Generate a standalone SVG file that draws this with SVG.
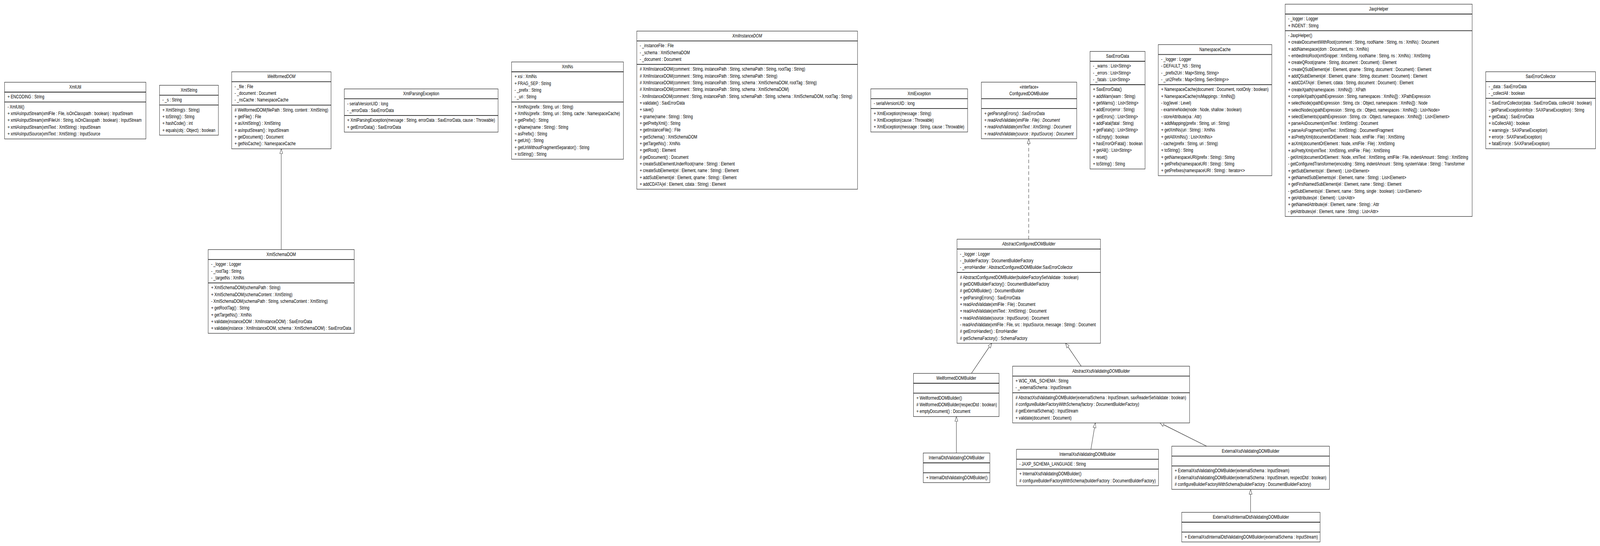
<svg xmlns="http://www.w3.org/2000/svg" width="5470" height="1399" viewBox="0 0 5470 1399" preserveAspectRatio="none">
<defs>
<style>
:root{width:100vw;height:100vh;display:block}
text{font-family:"Liberation Sans",Arial,sans-serif;font-size:13px;fill:#000}
.t{text-anchor:middle}
.ti{text-anchor:middle;font-style:italic}
.i{font-style:italic}
.box{fill:#fff;stroke:#222;stroke-width:1.2}
.sep{stroke:#222;stroke-width:1.8}
.edge{fill:none;stroke:#222;stroke-width:1.2;marker-end:url(#gen)}
.dash{stroke-dasharray:9,6}
</style>
<marker id="gen" markerWidth="14" markerHeight="12" refX="13" refY="5.5" orient="auto" markerUnits="userSpaceOnUse" viewBox="0 0 14 11">
<path d="M0.5,0.5 L13,5.5 L0.5,10.5 Z" fill="#fff" stroke="#222" stroke-width="1" stroke-dasharray="none"/>
</marker>
</defs>
<rect width="5470" height="1399" fill="#fff"/>

<g id="connectors">
<path class="edge" d="M961.5,639.5 L961.5,381.3"/>
<path class="edge dash" d="M3517,612.9 L3517,355.5"/>
<path class="edge" d="M3321,956.7 L3390.6,879.5"/>
<path class="edge" d="M3696.4,938.3 L3642.9,879.5"/>
<path class="edge" d="M3269.6,1160.7 L3269.6,1067.3"/>
<path class="edge" d="M3729.5,1151.3 L3744.6,1083.6"/>
<path class="edge" d="M4125,1143.3 L3966,1083.6"/>
<path class="edge" d="M4275.5,1312.7 L4275.5,1253.9"/>
</g>

<g id="XmlUtil">
<rect class="box" x="15.6" y="210.7" width="483.1" height="145.3"/>
<line class="sep" x1="15.6" y1="236" x2="498.7" y2="236"/>
<line class="sep" x1="15.6" y1="261.3" x2="498.7" y2="261.3"/>
<text class="t" x="257.2" y="227.2">XmlUtil</text>
<text x="25.6" y="252.5">+ ENCODING : String</text>
<text x="25.6" y="277.8">- XmlUtil()</text>
<text x="25.6" y="295.1">+ xmlAsInputStream(xmlFile : File, isOnClasspath : boolean) : InputStream</text>
<text x="25.6" y="312.5">+ xmlAsInputStream(xmlFileUri : String, isOnClasspath : boolean) : InputStream</text>
<text x="25.6" y="329.8">+ xmlAsInputStream(xmlText : XmlString) : InputStream</text>
<text x="25.6" y="347.1">+ xmlAsInputSource(xmlText : XmlString) : InputSource</text>
</g>

<g id="XmlString">
<rect class="box" x="545.3" y="218.5" width="201.3" height="127.9"/>
<line class="sep" x1="545.3" y1="243.8" x2="746.6" y2="243.8"/>
<line class="sep" x1="545.3" y1="269.1" x2="746.6" y2="269.1"/>
<text class="t" x="646" y="235">XmlString</text>
<text x="555.3" y="260.3">- _s : String</text>
<text x="555.3" y="285.6">+ XmlString(s : String)</text>
<text x="555.3" y="302.9">+ toString() : String</text>
<text x="555.3" y="320.3">+ hashCode() : int</text>
<text x="555.3" y="337.6">+ equals(obj : Object) : boolean</text>
</g>

<g id="WellformedDOM">
<rect class="box" x="792" y="184" width="339.8" height="197.3"/>
<line class="sep" x1="792" y1="209.3" x2="1131.8" y2="209.3"/>
<line class="sep" x1="792" y1="269.3" x2="1131.8" y2="269.3"/>
<text class="ti" x="961.9" y="200.5">WellformedDOM</text>
<text x="802" y="225.8">- _file : File</text>
<text x="802" y="243.1">- _document : Document</text>
<text x="802" y="260.5">- _nsCache : NamespaceCache</text>
<text x="802" y="285.8"># WellformedDOM(filePath : String, content : XmlString)</text>
<text x="802" y="303.1">+ getFile() : File</text>
<text x="802" y="320.5">+ asXmlString() : XmlString</text>
<text x="802" y="337.8">+ asInputStream() : InputStream</text>
<text x="802" y="355.1">+ getDocument() : Document</text>
<text x="802" y="372.5">+ getNsCache() : NamespaceCache</text>
</g>

<g id="XmlSchemaDOM">
<rect class="box" x="711.7" y="639.5" width="499.3" height="214.6"/>
<line class="sep" x1="711.7" y1="664.8" x2="1211" y2="664.8"/>
<line class="sep" x1="711.7" y1="724.8" x2="1211" y2="724.8"/>
<text class="t" x="961.4" y="656">XmlSchemaDOM</text>
<text x="721.7" y="681.3">- _logger : Logger</text>
<text x="721.7" y="698.6">- _rootTag : String</text>
<text x="721.7" y="716">- _targetNs : XmlNs</text>
<text x="721.7" y="741.3">+ XmlSchemaDOM(schemaPath : String)</text>
<text x="721.7" y="758.6">+ XmlSchemaDOM(schemaContent : XmlString)</text>
<text x="721.7" y="776">- XmlSchemaDOM(schemaPath : String, schemaContent : XmlString)</text>
<text x="721.7" y="793.3">+ getRootTag() : String</text>
<text x="721.7" y="810.6">+ getTargetNs() : XmlNs</text>
<text x="721.7" y="828">+ validate(instanceDOM : XmlInstanceDOM) : SaxErrorData</text>
<text x="721.7" y="845.3">+ validate(instance : XmlInstanceDOM, schema : XmlSchemaDOM) : SaxErrorData</text>
</g>

<g id="XmlParsingException">
<rect class="box" x="1177" y="227.8" width="525.8" height="110.7"/>
<line class="sep" x1="1177" y1="253.1" x2="1702.8" y2="253.1"/>
<line class="sep" x1="1177" y1="295.8" x2="1702.8" y2="295.8"/>
<text class="t" x="1439.9" y="244.3">XmlParsingException</text>
<text x="1187" y="269.6">- serialVersionUID : long</text>
<text x="1187" y="286.9">- _errorData : SaxErrorData</text>
<text x="1187" y="312.3">+ XmlParsingException(message : String, errorData : SaxErrorData, cause : Throwable)</text>
<text x="1187" y="329.6">+ getErrorData() : SaxErrorData</text>
</g>

<g id="XmlNs">
<rect class="box" x="1749" y="158.7" width="382.4" height="249.3"/>
<line class="sep" x1="1749" y1="184" x2="2131.4" y2="184"/>
<line class="sep" x1="1749" y1="261.3" x2="2131.4" y2="261.3"/>
<text class="t" x="1940.2" y="175.2">XmlNs</text>
<text x="1759" y="200.5">+ xsi : XmlNs</text>
<text x="1759" y="217.8">+ FRAG_SEP : String</text>
<text x="1759" y="235.2">- _prefix : String</text>
<text x="1759" y="252.5">- _uri : String</text>
<text x="1759" y="277.8">+ XmlNs(prefix : String, uri : String)</text>
<text x="1759" y="295.1">+ XmlNs(prefix : String, uri : String, cache : NamespaceCache)</text>
<text x="1759" y="312.5">+ getPrefix() : String</text>
<text x="1759" y="329.8">+ qName(name : String) : String</text>
<text x="1759" y="347.1">~ asPrefix() : String</text>
<text x="1759" y="364.5">+ getUri() : String</text>
<text x="1759" y="381.8">+ getUriWithoutFragmentSeparator() : String</text>
<text x="1759" y="399.1">+ toString() : String</text>
</g>

<g id="XmlInstanceDOM">
<rect class="box" x="2177" y="79.6" width="754.6" height="405.2"/>
<line class="sep" x1="2177" y1="104.9" x2="2931.6" y2="104.9"/>
<line class="sep" x1="2177" y1="164.9" x2="2931.6" y2="164.9"/>
<text class="ti" x="2554.3" y="96.1">XmlInstanceDOM</text>
<text x="2187" y="121.4">- _instanceFile : File</text>
<text x="2187" y="138.7">- _schema : XmlSchemaDOM</text>
<text x="2187" y="156.1">- _document : Document</text>
<text x="2187" y="181.4"># XmlInstanceDOM(comment : String, instancePath : String, schemaPath : String, rootTag : String)</text>
<text x="2187" y="198.7"># XmlInstanceDOM(comment : String, instancePath : String, schemaPath : String)</text>
<text x="2187" y="216.1"># XmlInstanceDOM(comment : String, instancePath : String, schema : XmlSchemaDOM, rootTag : String)</text>
<text x="2187" y="233.4"># XmlInstanceDOM(comment : String, instancePath : String, schema : XmlSchemaDOM)</text>
<text x="2187" y="250.7">- XmlInstanceDOM(comment : String, instancePath : String, schemaPath : String, schema : XmlSchemaDOM, rootTag : String)</text>
<text x="2187" y="268.1">+ validate() : SaxErrorData</text>
<text x="2187" y="285.4">+ save()</text>
<text x="2187" y="302.7">+ qname(name : String) : String</text>
<text x="2187" y="320">+ getPrettyXml() : String</text>
<text x="2187" y="337.4">+ getInstanceFile() : File</text>
<text x="2187" y="354.7">+ getSchema() : XmlSchemaDOM</text>
<text x="2187" y="372">+ getTargetNs() : XmlNs</text>
<text x="2187" y="389.4">+ getRoot() : Element</text>
<text x="2187" y="406.7"># getDocument() : Document</text>
<text x="2187" y="424">+ createSubElementUnderRoot(name : String) : Element</text>
<text x="2187" y="441.4">+ createSubElement(el : Element, name : String) : Element</text>
<text x="2187" y="458.7">+ addSubElement(el : Element, qname : String) : Element</text>
<text x="2187" y="476">+ addCDATA(el : Element, cdata : String) : Element</text>
</g>

<g id="XmlException">
<rect class="box" x="2977" y="227.6" width="331" height="110.6"/>
<line class="sep" x1="2977" y1="252.9" x2="3308" y2="252.9"/>
<line class="sep" x1="2977" y1="278.2" x2="3308" y2="278.2"/>
<text class="t" x="3142.5" y="244.1">XmlException</text>
<text x="2987" y="269.4">- serialVersionUID : long</text>
<text x="2987" y="294.7">+ XmlException(message : String)</text>
<text x="2987" y="312">+ XmlException(cause : Throwable)</text>
<text x="2987" y="329.4">+ XmlException(message : String, cause : Throwable)</text>
</g>

<g id="ConfiguredDOMBuilder">
<rect class="box" x="3355" y="210.5" width="326" height="145"/>
<line class="sep" x1="3355" y1="252.9" x2="3681" y2="252.9"/>
<line class="sep" x1="3355" y1="278.2" x2="3681" y2="278.2"/>
<text class="t" x="3518" y="227.5">«interface»</text>
<text class="t" x="3518" y="244.5">ConfiguredDOMBuilder</text>
<text class="i" x="3365" y="294.7">+ getParsingErrors() : SaxErrorData</text>
<text class="i" x="3365" y="312">+ readAndValidate(xmlFile : File) : Document</text>
<text class="i" x="3365" y="329.4">+ readAndValidate(xmlText : XmlString) : Document</text>
<text class="i" x="3365" y="346.7">+ readAndValidate(source : InputSource) : Document</text>
</g>

<g id="SaxErrorData">
<rect class="box" x="3726.6" y="131.7" width="188" height="301.3"/>
<line class="sep" x1="3726.6" y1="157" x2="3914.6" y2="157"/>
<line class="sep" x1="3726.6" y1="217" x2="3914.6" y2="217"/>
<text class="t" x="3820.6" y="148.2">SaxErrorData</text>
<text x="3736.6" y="173.5">- _warns : List&lt;String&gt;</text>
<text x="3736.6" y="190.8">- _errors : List&lt;String&gt;</text>
<text x="3736.6" y="208.2">- _fatals : List&lt;String&gt;</text>
<text x="3736.6" y="233.5">+ SaxErrorData()</text>
<text x="3736.6" y="250.8">+ addWarn(warn : String)</text>
<text x="3736.6" y="268.2">+ getWarns() : List&lt;String&gt;</text>
<text x="3736.6" y="285.5">+ addError(error : String)</text>
<text x="3736.6" y="302.8">+ getErrors() : List&lt;String&gt;</text>
<text x="3736.6" y="320.2">+ addFatal(fatal : String)</text>
<text x="3736.6" y="337.5">+ getFatals() : List&lt;String&gt;</text>
<text x="3736.6" y="354.8">+ isEmpty() : boolean</text>
<text x="3736.6" y="372.1">+ hasErrorOrFatal() : boolean</text>
<text x="3736.6" y="389.5">+ getAll() : List&lt;String&gt;</text>
<text x="3736.6" y="406.8">+ reset()</text>
<text x="3736.6" y="424.1">+ toString() : String</text>
</g>

<g id="NamespaceCache">
<rect class="box" x="3959.8" y="114.3" width="388.2" height="335.9"/>
<line class="sep" x1="3959.8" y1="139.6" x2="4348" y2="139.6"/>
<line class="sep" x1="3959.8" y1="216.9" x2="4348" y2="216.9"/>
<text class="t" x="4153.9" y="130.8">NamespaceCache</text>
<text x="3969.8" y="156.1">- _logger : Logger</text>
<text x="3969.8" y="173.4">- DEFAULT_NS : String</text>
<text x="3969.8" y="190.8">- _prefix2Uri : Map&lt;String, String&gt;</text>
<text x="3969.8" y="208.1">- _uri2Prefix : Map&lt;String, Set&lt;String&gt;&gt;</text>
<text x="3969.8" y="233.4">+ NamespaceCache(document : Document, rootOnly : boolean)</text>
<text x="3969.8" y="250.7">+ NamespaceCache(nsMappings : XmlNs[])</text>
<text x="3969.8" y="268.1">- log(level : Level)</text>
<text x="3969.8" y="285.4">- examineNode(node : Node, shallow : boolean)</text>
<text x="3969.8" y="302.7">- storeAttribute(xa : Attr)</text>
<text x="3969.8" y="320.1">+ addMapping(prefix : String, uri : String)</text>
<text x="3969.8" y="337.4">+ getXmlNs(uri : String) : XmlNs</text>
<text x="3969.8" y="354.7">+ getAllXmlNs() : List&lt;XmlNs&gt;</text>
<text x="3969.8" y="372">- cache(prefix : String, uri : String)</text>
<text x="3969.8" y="389.4">+ toString() : String</text>
<text x="3969.8" y="406.7">+ getNamespaceURI(prefix : String) : String</text>
<text x="3969.8" y="424">+ getPrefix(namespaceURI : String) : String</text>
<text x="3969.8" y="441.4">+ getPrefixes(namespaceURI : String) : Iterator&lt;&gt;</text>
</g>

<g id="JaxpHelper">
<rect class="box" x="4393.7" y="10.7" width="639.3" height="543.9"/>
<line class="sep" x1="4393.7" y1="36" x2="5033" y2="36"/>
<line class="sep" x1="4393.7" y1="78.7" x2="5033" y2="78.7"/>
<text class="t" x="4713.4" y="27.2">JaxpHelper</text>
<text x="4403.7" y="52.5">- _logger : Logger</text>
<text x="4403.7" y="69.8">+ INDENT : String</text>
<text x="4403.7" y="95.2">- JaxpHelper()</text>
<text x="4403.7" y="112.5">+ createDocumentWithRoot(comment : String, rootName : String, ns : XmlNs) : Document</text>
<text x="4403.7" y="129.9">+ addNamespace(dom : Document, ns : XmlNs)</text>
<text x="4403.7" y="147.2">~ embedIntoRoot(xmlSnippet : XmlString, rootName : String, ns : XmlNs) : XmlString</text>
<text x="4403.7" y="164.5">+ createQRoot(qname : String, document : Document) : Element</text>
<text x="4403.7" y="181.9">+ createQSubElement(el : Element, qname : String, document : Document) : Element</text>
<text x="4403.7" y="199.2">+ addQSubElement(el : Element, qname : String, document : Document) : Element</text>
<text x="4403.7" y="216.5">+ addCDATA(el : Element, cdata : String, document : Document) : Element</text>
<text x="4403.7" y="233.8">+ createXpath(namespaces : XmlNs[]) : XPath</text>
<text x="4403.7" y="251.2">+ compileXpath(xpathExpression : String, namespaces : XmlNs[]) : XPathExpression</text>
<text x="4403.7" y="268.5">+ selectNode(xpathExpression : String, ctx : Object, namespaces : XmlNs[]) : Node</text>
<text x="4403.7" y="285.8">+ selectNodes(xpathExpression : String, ctx : Object, namespaces : XmlNs[]) : List&lt;Node&gt;</text>
<text x="4403.7" y="303.2">+ selectElements(xpathExpression : String, ctx : Object, namespaces : XmlNs[]) : List&lt;Element&gt;</text>
<text x="4403.7" y="320.5">+ parseAsDocument(xmlText : XmlString) : Document</text>
<text x="4403.7" y="337.8">+ parseAsFragment(xmlText : XmlString) : DocumentFragment</text>
<text x="4403.7" y="355.2">+ asPrettyXml(documentOrElement : Node, xmlFile : File) : XmlString</text>
<text x="4403.7" y="372.5">+ asXml(documentOrElement : Node, xmlFile : File) : XmlString</text>
<text x="4403.7" y="389.8">+ asPrettyXml(xmlText : XmlString, xmlFile : File) : XmlString</text>
<text x="4403.7" y="407.1">- getXml(documentOrElement : Node, xmlText : XmlString, xmlFile : File, indentAmount : String) : XmlString</text>
<text x="4403.7" y="424.5">- getConfiguredTransformer(encoding : String, indentAmount : String, systemValue : String) : Transformer</text>
<text x="4403.7" y="441.8">+ getSubElements(el : Element) : List&lt;Element&gt;</text>
<text x="4403.7" y="459.1">+ getNamedSubElements(el : Element, name : String) : List&lt;Element&gt;</text>
<text x="4403.7" y="476.5">+ getFirstNamedSubElement(el : Element, name : String) : Element</text>
<text x="4403.7" y="493.8">- getSubElements(el : Element, name : String, single : boolean) : List&lt;Element&gt;</text>
<text x="4403.7" y="511.1">+ getAttributes(el : Element) : List&lt;Attr&gt;</text>
<text x="4403.7" y="528.5">+ getNamedAttribute(el : Element, name : String) : Attr</text>
<text x="4403.7" y="545.8">- getAttributes(el : Element, name : String) : List&lt;Attr&gt;</text>
</g>

<g id="SaxErrorCollector">
<rect class="box" x="5079.4" y="183.8" width="375.3" height="197.3"/>
<line class="sep" x1="5079.4" y1="209.1" x2="5454.7" y2="209.1"/>
<line class="sep" x1="5079.4" y1="251.8" x2="5454.7" y2="251.8"/>
<text class="t" x="5267" y="200.3">SaxErrorCollector</text>
<text x="5089.4" y="225.6">- _data : SaxErrorData</text>
<text x="5089.4" y="242.9">- _collectAll : boolean</text>
<text x="5089.4" y="268.3">~ SaxErrorCollector(data : SaxErrorData, collectAll : boolean)</text>
<text x="5089.4" y="285.6">- getParseExceptionInfo(e : SAXParseException) : String</text>
<text x="5089.4" y="303">+ getData() : SaxErrorData</text>
<text x="5089.4" y="320.3">+ isCollectAll() : boolean</text>
<text x="5089.4" y="337.6">+ warning(e : SAXParseException)</text>
<text x="5089.4" y="355">+ error(e : SAXParseException)</text>
<text x="5089.4" y="372.3">+ fatalError(e : SAXParseException)</text>
</g>

<g id="AbstractConfiguredDOMBuilder">
<rect class="box" x="3271.8" y="612.9" width="490.4" height="266.6"/>
<line class="sep" x1="3271.8" y1="638.2" x2="3762.2" y2="638.2"/>
<line class="sep" x1="3271.8" y1="698.2" x2="3762.2" y2="698.2"/>
<text class="ti" x="3517" y="629.4">AbstractConfiguredDOMBuilder</text>
<text x="3281.8" y="654.7">- _logger : Logger</text>
<text x="3281.8" y="672">- _builderFactory : DocumentBuilderFactory</text>
<text x="3281.8" y="689.4">- _errorHandler : AbstractConfiguredDOMBuilder.SaxErrorCollector</text>
<text x="3281.8" y="714.7"># AbstractConfiguredDOMBuilder(builderFactorySetValidate : boolean)</text>
<text x="3281.8" y="732"># getDOMBuilderFactory() : DocumentBuilderFactory</text>
<text x="3281.8" y="749.4"># getDOMBuilder() : DocumentBuilder</text>
<text x="3281.8" y="766.7">+ getParsingErrors() : SaxErrorData</text>
<text x="3281.8" y="784">+ readAndValidate(xmlFile : File) : Document</text>
<text x="3281.8" y="801.4">+ readAndValidate(xmlText : XmlString) : Document</text>
<text x="3281.8" y="818.7">+ readAndValidate(source : InputSource) : Document</text>
<text x="3281.8" y="836">- readAndValidate(xmlFile : File, src : InputSource, message : String) : Document</text>
<text x="3281.8" y="853.3"># getErrorHandler() : ErrorHandler</text>
<text x="3281.8" y="870.7"># getSchemaFactory() : SchemaFactory</text>
</g>

<g id="WellformedDOMBuilder">
<rect class="box" x="3122.9" y="956.7" width="292.6" height="110.6"/>
<line class="sep" x1="3122.9" y1="982" x2="3415.5" y2="982"/>
<line class="sep" x1="3122.9" y1="1007.3" x2="3415.5" y2="1007.3"/>
<text class="t" x="3269.2" y="973.2">WellformedDOMBuilder</text>
<text x="3132.9" y="1023.8">+ WellformedDOMBuilder()</text>
<text x="3132.9" y="1041.1"># WellformedDOMBuilder(respectDtd : boolean)</text>
<text x="3132.9" y="1058.5">+ emptyDocument() : Document</text>
</g>

<g id="AbstractXsdValidatingDOMBuilder">
<rect class="box" x="3461.7" y="938.3" width="605.1" height="145.3"/>
<line class="sep" x1="3461.7" y1="963.6" x2="4066.8" y2="963.6"/>
<line class="sep" x1="3461.7" y1="1006.3" x2="4066.8" y2="1006.3"/>
<text class="ti" x="3764.3" y="954.8">AbstractXsdValidatingDOMBuilder</text>
<text x="3471.7" y="980.1">+ W3C_XML_SCHEMA : String</text>
<text x="3471.7" y="997.4">- _externalSchema : InputStream</text>
<text x="3471.7" y="1022.8"># AbstractXsdValidatingDOMBuilder(externalSchema : InputStream, saxReaderSetValidate : boolean)</text>
<text class="i" x="3471.7" y="1040.1"># configureBuilderFactoryWithSchema(factory : DocumentBuilderFactory)</text>
<text x="3471.7" y="1057.5"># getExternalSchema() : InputStream</text>
<text x="3471.7" y="1074.8">+ validate(document : Document)</text>
</g>

<g id="InternalDtdValidatingDOMBuilder">
<rect class="box" x="3156.3" y="1160.7" width="227.7" height="75.9"/>
<line class="sep" x1="3156.3" y1="1186" x2="3384" y2="1186"/>
<line class="sep" x1="3156.3" y1="1211.3" x2="3384" y2="1211.3"/>
<text class="t" x="3270.2" y="1177.2">InternalDtdValidatingDOMBuilder</text>
<text x="3166.3" y="1227.8">+ InternalDtdValidatingDOMBuilder()</text>
</g>

<g id="InternalXsdValidatingDOMBuilder">
<rect class="box" x="3475" y="1151.3" width="485.7" height="93.3"/>
<line class="sep" x1="3475" y1="1176.6" x2="3960.7" y2="1176.6"/>
<line class="sep" x1="3475" y1="1201.9" x2="3960.7" y2="1201.9"/>
<text class="t" x="3717.9" y="1167.8">InternalXsdValidatingDOMBuilder</text>
<text x="3485" y="1193.1">- JAXP_SCHEMA_LANGUAGE : String</text>
<text x="3485" y="1218.4">+ InternalXsdValidatingDOMBuilder()</text>
<text x="3485" y="1235.7"># configureBuilderFactoryWithSchema(builderFactory : DocumentBuilderFactory)</text>
</g>

<g id="ExternalXsdValidatingDOMBuilder">
<rect class="box" x="4006" y="1143.3" width="539" height="110.6"/>
<line class="sep" x1="4006" y1="1168.6" x2="4545" y2="1168.6"/>
<line class="sep" x1="4006" y1="1193.9" x2="4545" y2="1193.9"/>
<text class="t" x="4275.5" y="1159.8">ExternalXsdValidatingDOMBuilder</text>
<text x="4016" y="1210.4">+ ExternalXsdValidatingDOMBuilder(externalSchema : InputStream)</text>
<text x="4016" y="1227.7"># ExternalXsdValidatingDOMBuilder(externalSchema : InputStream, respectDtd : boolean)</text>
<text x="4016" y="1245.1"># configureBuilderFactoryWithSchema(builderFactory : DocumentBuilderFactory)</text>
</g>

<g id="ExternalXsdInternalDtdValidatingDOMBuilder">
<rect class="box" x="4040" y="1312.7" width="473" height="75.9"/>
<line class="sep" x1="4040" y1="1338" x2="4513" y2="1338"/>
<line class="sep" x1="4040" y1="1363.3" x2="4513" y2="1363.3"/>
<text class="t" x="4276.5" y="1329.2">ExternalXsdInternalDtdValidatingDOMBuilder</text>
<text x="4050" y="1379.8">+ ExternalXsdInternalDtdValidatingDOMBuilder(externalSchema : InputStream)</text>
</g>
</svg>
